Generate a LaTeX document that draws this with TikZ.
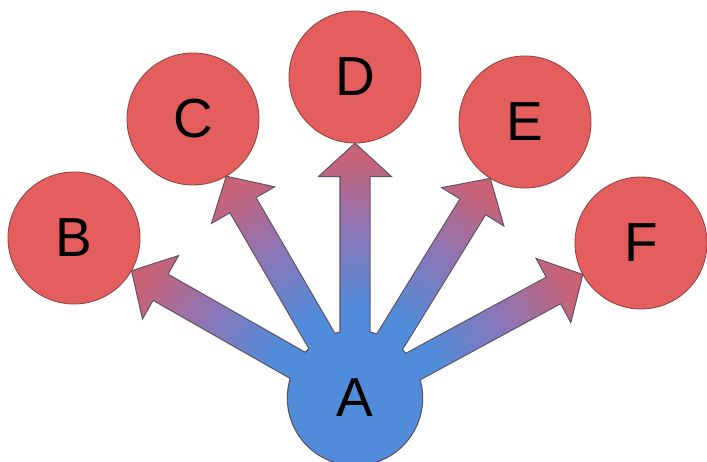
\documentclass[tikz,border=0pt]{standalone}
\usepackage{fontspec}
\setmainfont{Liberation Sans}
\usetikzlibrary{calc}
\definecolor{ablue}{RGB}{80,140,218}
\definecolor{amid}{RGB}{140,118,182}
\definecolor{atip}{RGB}{200,98,118}
\definecolor{cred}{RGB}{228,94,94}
\definecolor{credline}{RGB}{150,70,70}
\definecolor{aline}{RGB}{95,80,100}
\pgfdeclareradialshading{arrowshade}{\pgfpoint{0bp}{0bp}}{color(0bp)=(ablue); color(8.5bp)=(ablue); color(16bp)=(amid); color(23bp)=(atip); color(50bp)=(atip)}
\tikzset{
  bigletter/.style={font=\fontsize{55}{55}\selectfont},
  redcircle/.style={circle, inner sep=0pt, minimum size=132pt, fill=cred, draw=credline, line width=0.9pt, bigletter},
  aoutline/.style={circle, inner sep=0pt, minimum size=134pt, draw=aline, line width=2.4pt},
  afill/.style={circle, inner sep=0pt, minimum size=134pt, fill=ablue, bigletter},
  arrowline/.style={draw=aline, line width=2.2pt, line join=miter}
}
\begin{document}
\begin{tikzpicture}[x=1pt,y=1pt]
\useasboundingbox (0,0) rectangle (707,461);
\fill[white] (0,0) rectangle (707,461);
% targets
\node[redcircle] (B) at (74,223) {B};
\node[redcircle] (C) at (193,342) {C};
\node[redcircle] (D) at (355,384) {D};
\node[redcircle] (E) at (525,339) {E};
\node[redcircle] (F) at (641,218) {F};
% source outline
\node[aoutline] (A) at (355,63) {};
% arrow outlines
\foreach \t in {B,C,D,E,F} {
  \draw[arrowline] let \p1=($(\t.center)-(A.center)$), \n1={atan2(\y1,\x1)}, \n2={veclen(\x1,\y1)-67}, \n3={\n2-32} in
    ($(A.center)+(\n1-90:14.5)$) -- ($(A.center)+(\n1:\n3)+(\n1-90:14.5)$) -- ($(A.center)+(\n1:\n3)+(\n1-90:35)$) -- ($(A.center)+(\n1:\n2)$) -- ($(A.center)+(\n1:\n3)+(\n1+90:35)$) -- ($(A.center)+(\n1:\n3)+(\n1+90:14.5)$) -- ($(A.center)+(\n1+90:14.5)$) -- cycle;
}
% arrow fills
\foreach \t in {B,C,D,E,F} {
  \begin{scope}
  \clip let \p1=($(\t.center)-(A.center)$), \n1={atan2(\y1,\x1)}, \n2={veclen(\x1,\y1)-67}, \n3={\n2-32} in
    ($(A.center)+(\n1-90:14.5)$) -- ($(A.center)+(\n1:\n3)+(\n1-90:14.5)$) -- ($(A.center)+(\n1:\n3)+(\n1-90:35)$) -- ($(A.center)+(\n1:\n2)$) -- ($(A.center)+(\n1:\n3)+(\n1+90:35)$) -- ($(A.center)+(\n1:\n3)+(\n1+90:14.5)$) -- ($(A.center)+(\n1+90:14.5)$) -- cycle;
  \shade[shading=arrowshade] (A.center) circle (262);
  \end{scope}
}
% source fill and label
\node[afill] (Afill) at (A.center) {A};
\end{tikzpicture}
\end{document}
